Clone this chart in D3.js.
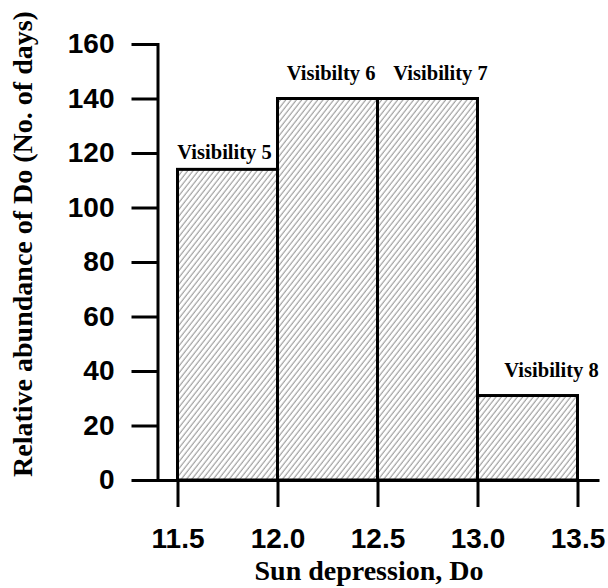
<!DOCTYPE html>
<html>
<head>
<meta charset="utf-8">
<script src="https://cdn.jsdelivr.net/npm/d3@7"></script>
<style>
  body { margin: 0; background: #fff; }
  .tick text { font-family: "Liberation Sans", Arial, sans-serif; font-weight: bold; font-size: 28px; fill: #000; }
  .title { font-family: "Liberation Serif", "Times New Roman", serif; font-weight: bold; font-size: 28px; fill: #000; }
  .barlabel { font-family: "Liberation Serif", "Times New Roman", serif; font-weight: bold; font-size: 20.5px; fill: #000; }
</style>
</head>
<body>
<script>
// histogram bins (sun depression, Do)
var binStart = [11.5, 12.0, 12.5, 13.0];
var binEnd = [12.0, 12.5, 13.0, 13.5];
var counts = [114, 140, 140, 31];

// annotation text and where it sits, in data units
var labelText = ["Visibility 5", "Visibilty 6", "Visibility 7", "Visibility 8"];
var labelX = [11.735, 12.268, 12.815, 13.37];
var labelY = [117.8, 146.8, 146.8, 37.8];

var xTicks = [11.5, 12.0, 12.5, 13.0, 13.5];
var yTicks = [0, 20, 40, 60, 80, 100, 120, 140, 160];

var width = 608, height = 588;

var svg = d3.select("body").append("svg")
    .attr("width", width)
    .attr("height", height);

// hatch fill
svg.append("defs").append("pattern")
    .attr("id", "hatch")
    .attr("patternUnits", "userSpaceOnUse")
    .attr("width", 4.2)
    .attr("height", 8)
    .attr("patternTransform", "rotate(38)")
    .append("line")
    .attr("x1", 1).attr("y1", 0)
    .attr("x2", 1).attr("y2", 8)
    .attr("stroke", "#666")
    .attr("stroke-width", 0.8);

var x = d3.scaleLinear()
    .domain([11.4, 13.6])
    .range([157.5, 597.5]);

var y = d3.scaleLinear()
    .domain([0, 160])
    .range([480, 44]);

// bars
svg.selectAll(".bar")
    .data(counts).enter()
    .append("rect")
    .attr("class", "bar")
    .attr("x", function(d, i) { return x(binStart[i]); })
    .attr("y", function(d) { return y(d); })
    .attr("width", function(d, i) { return x(binEnd[i]) - x(binStart[i]); })
    .attr("height", function(d) { return y(0) - y(d); })
    .attr("fill", "url(#hatch)")
    .attr("stroke", "#000")
    .attr("stroke-width", 3);

//axes
var xAxis = d3.axisBottom(x)
    .tickValues(xTicks)
    .tickFormat(d3.format(".1f"))
    .tickSize(27)
    .tickSizeOuter(0)
    .tickPadding(21);

var yAxis = d3.axisLeft(y)
    .tickValues(yTicks)
    .tickSize(26)
    .tickSizeOuter(0)
    .tickPadding(17);

var gx = svg.append("g")
    .attr("transform", "translate(0," + y(0) + ")")
    .call(xAxis);

var gy = svg.append("g")
    .attr("transform", "translate(" + x(11.4) + ",0)")
    .call(yAxis);

[gx, gy].forEach(function(g) {
    g.attr("font-size", null).attr("font-family", null);
    g.selectAll("path, line")
        .attr("stroke", "#000")
        .attr("stroke-width", 3);
    g.select(".domain").attr("stroke-linecap", "square");
});

// bar annotations
svg.selectAll(".barlabel")
    .data(labelText).enter()
    .append("text")
    .attr("class", "barlabel")
    .attr("x", function(d, i) { return x(labelX[i]); })
    .attr("y", function(d, i) { return y(labelY[i]); })
    .style("text-anchor", "middle")
    .text(function(d) { return d; });

// titles
svg.append("text")
    .attr("class", "title")
    .attr("x", 369)
    .attr("y", 580)
    .style("text-anchor", "middle")
    .text("Sun depression, Do");

svg.append("text")
    .attr("class", "title")
    .attr("transform", "translate(32,244) rotate(-90)")
    .style("text-anchor", "middle")
    .text("Relative abundance of Do (No. of days)");
</script>
</body>
</html>
